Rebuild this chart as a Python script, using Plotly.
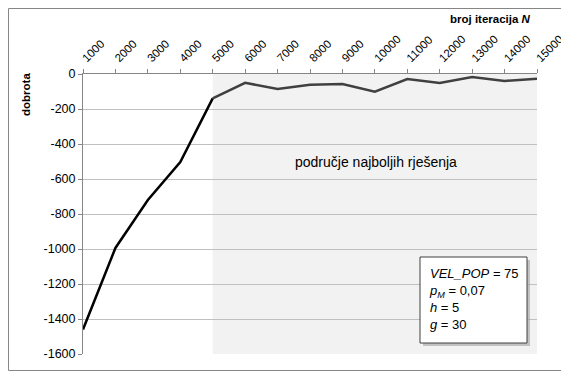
import plotly.graph_objects as go

iterations = [1000, 2000, 3000, 4000, 5000, 6000, 7000, 8000, 9000, 10000, 11000, 12000, 13000, 14000, 15000]
dobrota = [-1460, -994, -720, -503, -139, -50, -86, -61, -57, -101, -29, -51, -17, -40, -27]
x_ticks = iterations
y_ticks = list(range(-1600, 1, 200))
region_start = 5000
region_end = 15000

FONT = "Liberation Sans"
OFF = 8  # page body margin
W, H = 569 - OFF, 379 - 2 * OFF
L, T = 83 - OFF, 74 - OFF
R = W - (537 - OFF)
B = H - (354 - OFF)
pw, ph = W - L - R, H - T - B

def px(x):
    return (x - OFF - L) / pw

def py(y):
    return (H - B - (y - OFF)) / ph

fig = go.Figure()

# shaded region
fig.add_shape(type="rect", xref="x", yref="paper", x0=region_start, x1=region_end, y0=0, y1=1,
              fillcolor="#f2f2f2", line_width=0, layer="below")

split = iterations.index(region_start)
fig.add_trace(go.Scatter(x=iterations[:split + 1], y=dobrota[:split + 1], mode="lines",
                         line=dict(color="#000000", width=2.5), showlegend=False))
fig.add_trace(go.Scatter(x=iterations[split:], y=dobrota[split:], mode="lines",
                         line=dict(color="#404040", width=2.5), showlegend=False))

fig.update_layout(
    width=W, height=H,
    margin=dict(l=L, r=R, t=T, b=B),
    paper_bgcolor="white", plot_bgcolor="rgba(0,0,0,0)",
    font=dict(family=FONT, size=12, color="#000000"),
    xaxis=dict(side="top", range=[1000, 15000], tickvals=x_ticks, ticktext=[str(v) for v in x_ticks],
               tickangle=-45, showgrid=False, zeroline=False, showline=True, linecolor="#868686",
               ticks="outside", ticklen=4, tickcolor="#868686", tickfont=dict(size=11.5), automargin=False,
               ticklabeloverflow="allow"),
    yaxis=dict(range=[-1600, 0], tickvals=y_ticks, ticktext=[str(v) for v in y_ticks],
               showgrid=True, gridcolor="#c0c0c0", gridwidth=1, zeroline=False,
               showline=True, linecolor="#868686", ticks="outside", ticklen=4, tickcolor="#868686",
               tickfont=dict(size=12.5), automargin=False),
)

# outer border
fig.add_shape(type="rect", xref="paper", yref="paper",
              x0=px(OFF + 0.5), x1=px(566.5), y0=(-B + 0.5) / ph, y1=(H - B - 0.5) / ph,
              line=dict(color="#868686", width=1), fillcolor="rgba(0,0,0,0)")

# axis titles
fig.add_annotation(xref="paper", yref="paper", x=px(533), y=py(19), text="<b>broj iteracija <i>N</i></b>",
                   showarrow=False, xanchor="right", yanchor="middle", font=dict(size=11.5))
fig.add_annotation(xref="paper", yref="paper", x=px(26), y=py(95), text="<b>dobrota</b>", textangle=-90,
                   showarrow=False, xanchor="center", yanchor="middle", font=dict(size=11.5))

# region label
fig.add_annotation(xref="paper", yref="paper", x=px(376), y=py(162), text="područje najboljih rješenja",
                   showarrow=False, xanchor="center", yanchor="middle", font=dict(size=14))

# parameter box shadow + box
fig.add_shape(type="rect", xref="paper", yref="paper", x0=px(423), x1=px(530), y0=py(346), y1=py(260),
              fillcolor="#a0a0a0", line_width=0, opacity=0.6)
fig.add_shape(type="rect", xref="paper", yref="paper", x0=px(420), x1=px(527), y0=py(343), y1=py(257),
              fillcolor="white", line=dict(color="#404040", width=1))
fig.add_annotation(xref="paper", yref="paper", x=px(427), y=py(299),
                   text="<i>VEL_POP</i> = 75<br><i>p<sub>M</sub></i> = 0,07<br><i>h</i> = 5<br><i>g</i> = 30",
                   showarrow=False, xanchor="left", yanchor="middle", align="left", font=dict(size=13))

fig.write_html("out.html")
